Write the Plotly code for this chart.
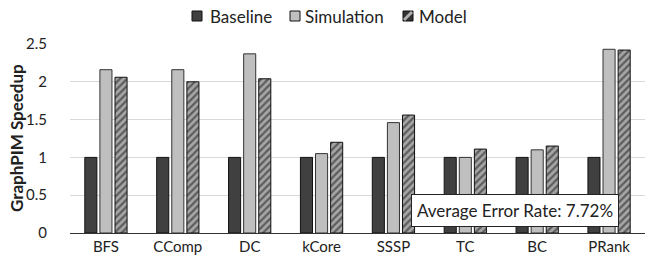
import plotly.graph_objects as go

categories = ["BFS", "CComp", "DC", "kCore", "SSSP", "TC", "BC", "PRank"]
series_names = ["Baseline", "Simulation", "Model"]
baseline = [1, 1, 1, 1, 1, 1, 1, 1]
simulation = [2.16, 2.16, 2.37, 1.05, 1.46, 1.0, 1.10, 2.43]
model = [2.06, 2.0, 2.04, 1.20, 1.56, 1.11, 1.15, 2.42]
y_title = "GraphPIM Speedup"
note_text = "Average Error Rate: 7.72%"

FONT = "Lato"
TXT = "#222222"

W, H = 648, 270
ML, MR, MT, MB = 70, 3, 44, 37
PW, PH = W - ML - MR, H - MT - MB


def px_x(page_x):
    return (page_x - ML) / PW


def px_y(page_y):
    return (H - MB - page_y) / PH


fig = go.Figure()
fig.add_trace(go.Bar(name=series_names[0], x=categories, y=baseline,
                     marker=dict(color="#404040", line=dict(color="#111111", width=1))))
fig.add_trace(go.Bar(name=series_names[1], x=categories, y=simulation,
                     marker=dict(color="#bfbfbf", line=dict(color="#333333", width=1))))
fig.add_trace(go.Bar(name=series_names[2], x=categories, y=model,
                     marker=dict(color="#a6a6a6", line=dict(color="#111111", width=1),
                                 pattern=dict(shape="/", fgcolor="#111111", bgcolor="#a6a6a6",
                                              size=5, solidity=0.45, fillmode="overlay"))))

# manual legend (tight spacing like the reference)
leg_marker_x = [192, 290, 403]
leg_text_x = [208, 303, 417]
leg_fill = ["#404040", "#bfbfbf", "#333333"]
shapes = []
annotations = []
for i, name in enumerate(series_names):
    x0, x1 = px_x(leg_marker_x[i]), px_x(leg_marker_x[i] + 10)
    y0, y1 = px_y(21), px_y(11)
    shapes.append(dict(type="rect", xref="paper", yref="paper", x0=x0, x1=x1, y0=y0, y1=y1,
                       fillcolor=leg_fill[i], line=dict(color="#111111", width=1)))
    if i == 2:
        shapes.append(dict(type="line", xref="paper", yref="paper",
                           x0=px_x(leg_marker_x[i] + 1), x1=px_x(leg_marker_x[i] + 9),
                           y0=px_y(20), y1=px_y(12), line=dict(color="#b0b0b0", width=3)))
    annotations.append(dict(text=name, xref="paper", yref="paper", x=px_x(leg_text_x[i]),
                            y=px_y(16.5), xanchor="left", yanchor="middle", showarrow=False,
                            font=dict(size=17, family=FONT, color=TXT)))

annotations.append(dict(text="<b>" + y_title + "</b>", xref="paper", yref="paper",
                        x=px_x(16), y=px_y(138), xanchor="center", yanchor="middle",
                        textangle=-90, showarrow=False,
                        font=dict(size=17, family=FONT, color=TXT)))
annotations.append(dict(text=note_text, xref="paper", yref="paper",
                        x=px_x(515), y=px_y(210), xanchor="center", yanchor="middle",
                        showarrow=False, bgcolor="white", bordercolor="#222222",
                        borderwidth=1, borderpad=5,
                        font=dict(size=17, family=FONT, color=TXT)))

fig.update_layout(
    width=W, height=H,
    margin=dict(l=ML, r=MR, t=MT, b=MB, autoexpand=False),
    paper_bgcolor="white", plot_bgcolor="white",
    barmode="group", bargap=0.37, bargroupgap=0.2,
    font=dict(family=FONT, size=15, color=TXT),
    showlegend=False,
    hovermode=False,
    xaxis=dict(showgrid=False, showline=True, linecolor="#333333", linewidth=1,
               ticks="", tickfont=dict(size=15), automargin=False),
    yaxis=dict(range=[0, 2.5], dtick=0.5, showgrid=True, gridcolor="#d9d9d9", gridwidth=1,
               zeroline=False, showline=False, tickfont=dict(size=15), automargin=False,
               tickformat="~g", ticklabelstandoff=22),
    shapes=shapes,
    annotations=annotations,
)

fig.write_html("out.html", config={"displayModeBar": False},
               post_script="document.body.style.margin='0';document.body.style.overflow='hidden';")
